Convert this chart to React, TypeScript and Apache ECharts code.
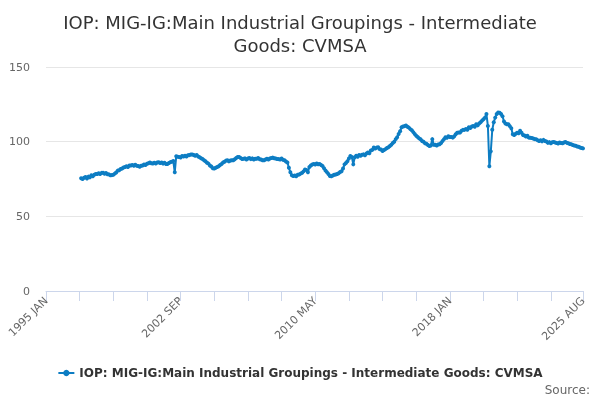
import React, { useEffect, useRef } from "react";
import * as echarts from "echarts";

const TITLE = "IOP: MIG-IG:Main Industrial Groupings - Intermediate\nGoods: CVMSA";
const SERIES_NAME = "IOP: MIG-IG:Main Industrial Groupings - Intermediate Goods: CVMSA";
const MONTHS = ["JAN", "FEB", "MAR", "APR", "MAY", "JUN", "JUL", "AUG", "SEP", "OCT", "NOV", "DEC"];
const FIRST_YEAR = 1995;
const LAST_YEAR = 2025;
const LAST_MONTH = 8; // AUG
const DATA_START = "1997 JAN";
const Y_TICKS = [0, 50, 100, 150];

// Monthly values from 1997 JAN to 2025 AUG
const values: number[] = [
  // 1997
  75.5, 75.0, 75.8, 76.4, 75.4, 76.6, 76.1, 77.5, 76.9, 77.8, 78.4, 78.3,
  // 1998
  78.9, 78.3, 79.1, 79.2, 78.5, 79.0, 78.2, 78.1, 77.5, 77.6, 77.9, 78.6,
  // 1999
  79.4, 80.6, 80.8, 81.7, 82.0, 82.7, 83.0, 83.6, 83.1, 84.0, 84.0, 84.4,
  // 2000
  83.9, 84.6, 83.9, 83.7, 83.2, 83.9, 84.1, 84.7, 84.4, 85.2, 85.5, 86.1,
  // 2001
  85.6, 85.4, 85.9, 85.4, 86.0, 86.2, 85.7, 86.1, 85.3, 85.9, 85.1, 85.0,
  // 2002
  85.7, 86.3, 86.6, 87.0, 79.5, 90.2, 89.9, 89.7, 89.4, 90.4, 90.0, 90.6,
  // 2003
  90.1, 90.9, 91.0, 91.4, 91.4, 91.0, 90.5, 91.1, 90.1, 89.6, 88.9, 88.4,
  // 2004
  87.5, 86.9, 85.9, 85.3, 84.1, 83.3, 82.2, 82.1, 82.6, 83.1, 83.5, 84.4,
  // 2005
  85.0, 86.1, 86.5, 87.3, 87.5, 86.8, 87.4, 87.5, 87.6, 88.2, 89.1, 89.7,
  // 2006
  89.8, 89.0, 88.4, 88.6, 88.8, 88.1, 88.7, 89.0, 88.3, 88.8, 88.1, 88.5,
  // 2007
  88.6, 89.0, 88.2, 88.1, 87.5, 87.6, 88.0, 88.5, 88.1, 88.7, 89.0, 89.3,
  // 2008
  88.9, 88.7, 88.4, 88.3, 88.1, 88.7, 87.8, 87.6, 86.7, 86.0, 82.5, 79.5,
  // 2009
  77.5, 77.0, 77.3, 76.9, 77.9, 78.0, 78.6, 79.1, 80.1, 81.4, 81.0, 79.5,
  // 2010
  83.0, 84.1, 84.7, 85.1, 84.7, 85.4, 84.9, 85.0, 84.4, 83.7, 82.2, 80.7,
  // 2011
  79.6, 78.4, 77.0, 76.9, 77.4, 77.9, 78.0, 78.4, 78.9, 79.7, 80.2, 82.0,
  // 2012
  84.8, 85.7, 86.9, 88.7, 90.4, 89.8, 84.8, 89.5, 90.5, 89.9, 91.1, 90.6,
  // 2013
  91.3, 91.5, 90.9, 92.1, 92.7, 92.3, 94.1, 94.5, 96.1, 95.4, 96.0, 96.3,
  // 2014
  95.0, 94.7, 93.8, 94.4, 95.0, 95.7, 96.2, 97.1, 98.0, 99.1, 100.0, 101.7,
  // 2015
  103.0, 105.1, 107.0, 109.6, 110.1, 110.4, 110.8, 110.0, 109.4, 108.4, 107.6, 106.4,
  // 2016
  105.1, 103.9, 103.1, 102.2, 101.6, 100.4, 99.9, 98.9, 98.6, 97.7, 97.1, 97.5,
  // 2017
  101.7, 98.0, 97.9, 97.4, 98.1, 98.3, 99.1, 100.5, 101.7, 102.9, 102.6, 103.6,
  // 2018
  103.1, 103.1, 102.7, 103.6, 105.0, 105.9, 106.2, 106.1, 107.3, 107.9, 107.9, 108.5,
  // 2019
  108.0, 109.7, 109.1, 110.1, 110.5, 110.0, 111.6, 110.9, 112.1, 113.0, 114.1, 115.0,
  // 2020
  116.1, 118.5, 110.5, 83.5, 93.5, 108.0, 113.0, 116.1, 118.5, 119.6, 119.4, 118.5,
  // 2021
  117.0, 113.5, 112.1, 111.7, 111.6, 110.4, 109.0, 105.0, 104.4, 105.3, 106.0, 105.6,
  // 2022
  107.3, 106.0, 104.4, 104.1, 103.4, 104.0, 102.7, 102.6, 102.5, 102.1, 101.7, 101.6,
  // 2023
  100.9, 100.5, 100.9, 100.2, 101.2, 100.5, 100.1, 99.2, 99.7, 98.9, 99.6, 99.8,
  // 2024
  99.4, 99.1, 98.8, 99.5, 99.1, 98.9, 99.5, 99.8, 99.2, 98.9, 98.4, 98.3,
  // 2025
  97.8, 97.4, 97.3, 96.7, 96.6, 96.1, 95.8, 95.5,
];

const FONT = "'DejaVu Sans', Verdana, sans-serif";

export default function App() {
  const ref = useRef<HTMLDivElement>(null);

  useEffect(() => {
    if (!ref.current) return;
    const chart = echarts.init(ref.current, undefined, { renderer: "svg" });

    const categories: string[] = [];
    for (let y = FIRST_YEAR; y <= LAST_YEAR; y++) {
      const lastM = y === LAST_YEAR ? LAST_MONTH : 12;
      for (let m = 0; m < lastM; m++) categories.push(`${y} ${MONTHS[m]}`);
    }
    const startIdx = categories.indexOf(DATA_START);
    const seriesData: (number | null)[] = categories.map((_, i) =>
      i < startIdx ? null : values[i - startIdx] ?? null
    );
    const lastIdx = categories.length - 1;
    const labelStep = 92;
    const tickStep = 23;

    chart.setOption({
      animation: false,
      textStyle: { fontFamily: FONT },
      title: {
        text: TITLE,
        left: "center",
        top: 6,
        textStyle: {
          fontFamily: FONT,
          fontSize: 18,
          fontWeight: "normal",
          color: "#333333",
          lineHeight: 23,
        },
      },
      grid: { left: 46, right: 17, top: 67, bottom: 109, containLabel: false },
      legend: {
        bottom: 16,
        left: "center",
        itemWidth: 16,
        itemHeight: 8,
        itemGap: 6,
        textStyle: { fontFamily: FONT, fontSize: 12, fontWeight: "bold", color: "#333333" },
        data: [SERIES_NAME],
      },
      xAxis: {
        type: "category",
        data: categories,
        boundaryGap: false,
        axisLine: { lineStyle: { color: "#ccd6eb", width: 1 } },
        axisTick: {
          show: true,
          length: 10,
          lineStyle: { color: "#ccd6eb" },
          interval: (i: number) => i % tickStep === 0 || i === lastIdx,
        },
        axisLabel: {
          rotate: 45,
          margin: 8,
          color: "#666666",
          fontSize: 11,
          fontFamily: FONT,
          interval: (i: number) => i % labelStep === 0 || i === lastIdx,
        },
        splitLine: { show: false },
      },
      yAxis: {
        type: "value",
        min: Y_TICKS[0],
        max: Y_TICKS[Y_TICKS.length - 1],
        interval: Y_TICKS[1] - Y_TICKS[0],
        axisLine: { show: false },
        axisTick: { show: false },
        axisLabel: { color: "#666666", fontSize: 11, fontFamily: FONT, margin: 16 },
        splitLine: { lineStyle: { color: "#e6e6e6", width: 1 } },
      },
      series: [
        {
          name: SERIES_NAME,
          type: "line",
          data: seriesData,
          showSymbol: true,
          showAllSymbol: true,
          symbol: "circle",
          symbolSize: 4,
          connectNulls: false,
          itemStyle: { color: "#0d7dc3" },
          lineStyle: { color: "#0d7dc3", width: 2 },
        },
      ],
      graphic: [
        {
          type: "text",
          right: 10,
          bottom: 4,
          style: { text: "Source:", fontFamily: FONT, fontSize: 12, fill: "#666666" },
        },
      ],
    });

    return () => chart.dispose();
  }, []);

  return (
    <div
      ref={ref}
      style={{ position: "fixed", left: 0, top: 0, width: 600, height: 400 }}
    />
  );
}
